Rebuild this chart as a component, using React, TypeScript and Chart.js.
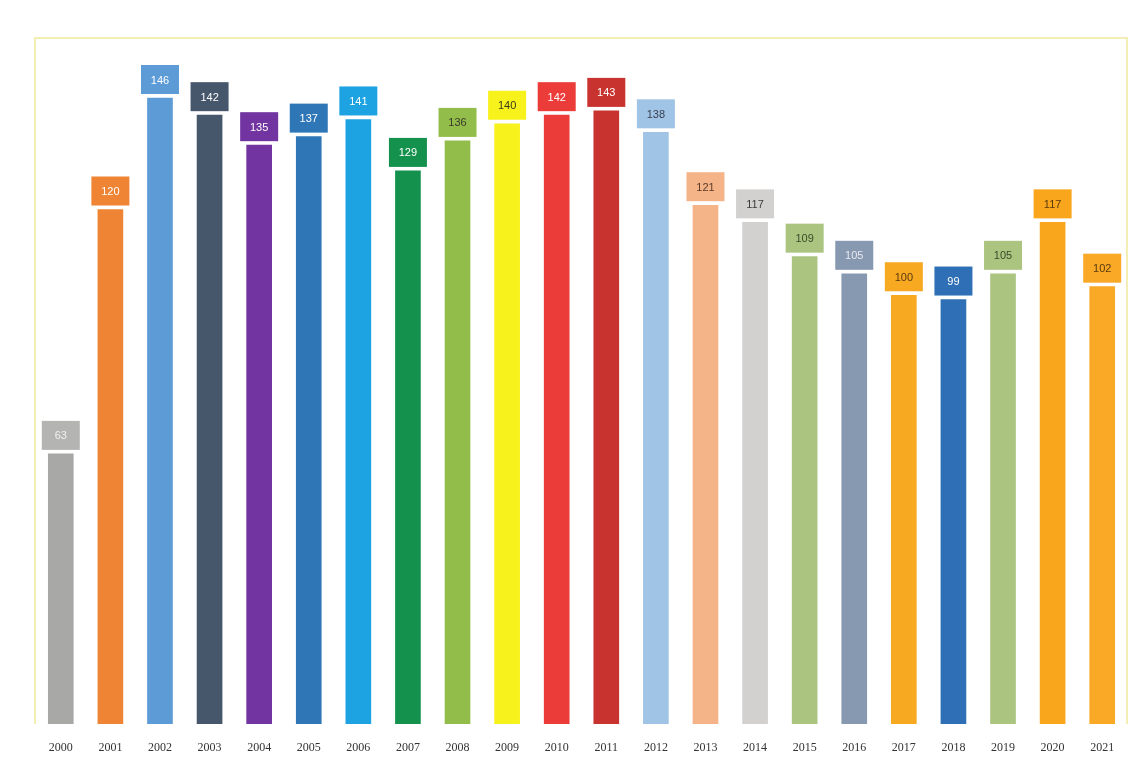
import React, { useEffect, useRef } from "react";
import { Chart, registerables } from "chart.js";

Chart.register(...registerables);

const years = ["2000","2001","2002","2003","2004","2005","2006","2007","2008","2009","2010","2011","2012","2013","2014","2015","2016","2017","2018","2019","2020","2021"];
const values = [63, 120, 146, 142, 135, 137, 141, 129, 136, 140, 142, 143, 138, 121, 117, 109, 105, 100, 99, 105, 117, 102];
const barColors = ["#a8a8a6","#ee8434","#5c9bd6","#46566b","#7234a0","#2f76b7","#1ea3e2","#14924d","#92bd4a","#f8f21c","#ec3c3a","#c8322f","#a0c4e6","#f5b487","#d3d1cf","#abc581","#8799b1","#f8a922","#2f6fb5","#abc581","#f9a61c","#f9a926"];
const boxColors = ["#b4b4b2","#ee8434","#5c9bd6","#46566b","#7234a0","#2f76b7","#1ea3e2","#14924d","#92bd4a","#f8f21c","#ec3c3a","#c8322f","#a0c4e6","#f5b487","#d3d1cf","#abc581","#8799b1","#f8a922","#2f6fb5","#abc581","#f9a61c","#f9a926"];
const labelTextColors = ["#f0f0f0","#ffffff","#ffffff","#ffffff","#ffffff","#ffffff","#ffffff","#ffffff","#3a3a2a","#3a3a1a","#ffffff","#ffffff","#3a4050","#5a3a2a","#3a3a3a","#3a4a2a","#e8e8f0","#5a3a10","#ffffff","#3a4a2a","#5a3a10","#5a3a10"];

const boxPlugin = {
  id: "boxLabels",
  beforeDraw(chart: any) {
    const { ctx, chartArea } = chart;
    ctx.save();
    ctx.strokeStyle = "#f3eeb4";
    ctx.lineWidth = 2;
    ctx.beginPath();
    ctx.moveTo(chartArea.left - 1, chartArea.bottom);
    ctx.lineTo(chartArea.left - 1, chartArea.top);
    ctx.lineTo(chartArea.right, chartArea.top);
    ctx.lineTo(chartArea.right, chartArea.bottom);
    ctx.stroke();
    ctx.restore();
  },
  afterDatasetsDraw(chart: any) {
    const { ctx } = chart;
    const meta = chart.getDatasetMeta(0);
    ctx.save();
    meta.data.forEach((bar: any, i: number) => {
      const w = 38;
      const h = 29;
      const x = bar.x - w / 2;
      const y = bar.y - 4 - h;
      ctx.fillStyle = boxColors[i];
      ctx.fillRect(x, y, w, h);
      ctx.fillStyle = labelTextColors[i];
      ctx.font = "11px 'Liberation Sans', sans-serif";
      ctx.textAlign = "center";
      ctx.textBaseline = "middle";
      ctx.fillText(String(values[i]), bar.x, y + h / 2 + 1);
    });
    ctx.restore();
  },
};

export default function App() {
  const ref = useRef<HTMLCanvasElement>(null);
  useEffect(() => {
    if (!ref.current) return;
    const chart = new Chart(ref.current, {
      type: "bar",
      data: {
        labels: years,
        datasets: [
          {
            data: values,
            backgroundColor: barColors,
            barThickness: 25,
            borderWidth: 0,
          },
        ],
      },
      options: {
        animation: false,
        responsive: false,
        maintainAspectRatio: false,
        layout: { padding: { left: 36, right: 11, top: 38, bottom: 1 } },
        plugins: { legend: { display: false }, tooltip: { enabled: false } },
        scales: {
          y: { display: false, min: 0, max: 160 },
          x: {
            grid: { display: false },
            border: { display: false },
            afterFit: (scale: any) => {
              scale.height = 40;
            },
            ticks: {
              color: "#333333",
              padding: 9,
              maxRotation: 0,
              autoSkip: false,
              font: { family: "'Liberation Serif', serif", size: 12 },
            },
          },
        },
      },
      plugins: [boxPlugin],
    });
    return () => chart.destroy();
  }, []);
  return (
    <div style={{ position: "absolute", left: 0, top: 0, width: 1138, height: 765, background: "#ffffff" }}>
      <canvas ref={ref} width={1138} height={765} style={{ display: "block" }} />
    </div>
  );
}
